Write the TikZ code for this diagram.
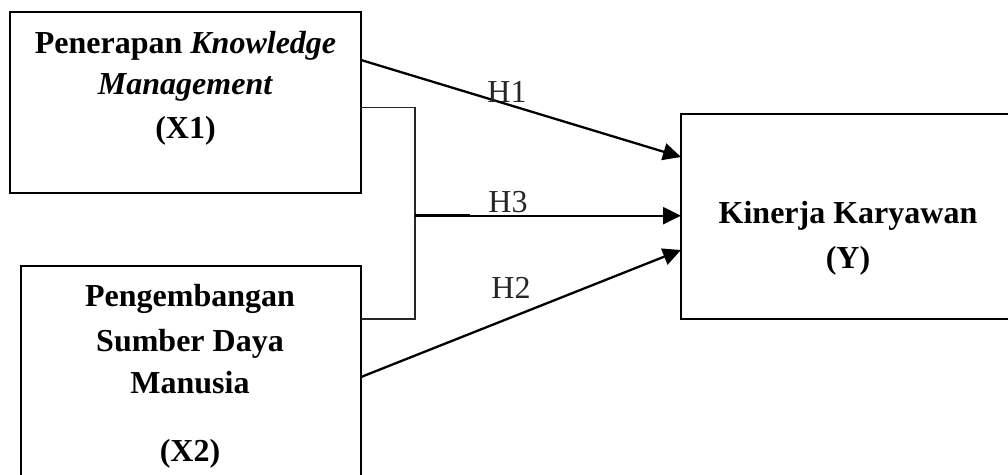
\documentclass[tikz,border=0pt]{standalone}
\usepackage{fontspec}
\setmainfont{Liberation Serif}
\usetikzlibrary{arrows.meta,calc}
\begin{document}
\begin{tikzpicture}[x=1pt,y=-1pt,
  box/.style={draw=black,line width=2.2pt,rectangle,inner sep=0pt,outer sep=0pt},
  lbl/.style={anchor=base,inner sep=0pt,font=\fontsize{32}{38}\selectfont\bfseries},
  hlbl/.style={anchor=base,inner sep=0pt,font=\fontsize{32}{38}\selectfont,text=black!85},
  arr/.style={line width=2.3pt,-{Triangle[length=18pt,width=17pt]}},
  brk/.style={line width=1.4pt,draw=black!85}]
\useasboundingbox (0,0) rectangle (1008,474);
\clip (0,0) rectangle (1008,474);
\fill[white] (0,0) rectangle (1008,474);
% boxes
\node[box,minimum width=351pt,minimum height=181pt] (x1) at (185.5,102.5) {};
\node[box,minimum width=340pt,minimum height=234pt] (x2) at (191,383) {};
\node[box,minimum width=349pt,minimum height=205pt] (y) at (855.5,216.5) {};
% texts
\node[lbl] (t1a) at (185.5,53) {Penerapan \textit{Knowledge}};
\node[lbl] (t1b) at (185.5,94) {\textit{Management}};
\node[lbl] (t1c) at (185.5,138) {(X1)};
\node[lbl] (t2a) at (190,306) {Pengembangan};
\node[lbl] (t2b) at (190,351) {Sumber Daya};
\node[lbl] (t2c) at (190,393) {Manusia};
\node[lbl] (t2d) at (190,461) {(X2)};
\node[lbl] (tya) at (848,223) {Kinerja Karyawan};
\node[lbl] (tyb) at (848,268) {(Y)};
% bracket
\coordinate (bk) at (415,215.7);
\coordinate (bkt) at (470,215.7);
\draw[brk] ([yshift=-5pt]x1.east) -| (bk) |- ([yshift=64pt]x2.east);
\draw[line width=3pt] (bk) -- (bkt);
% arrows
\draw[arr] ([yshift=42.5pt]x1.east) -- ([yshift=59.5pt]y.west);
\draw[arr] (bk) -- (bk -| y.west);
\draw[arr] ([yshift=6pt]x2.east) -- ([yshift=-33.5pt]y.west);
% labels
\node[hlbl] (h1) at (507,102) {H1};
\node[hlbl] (h3) at (508,212) {H3};
\node[hlbl] (h2) at (511,298) {H2};
\end{tikzpicture}
\end{document}
